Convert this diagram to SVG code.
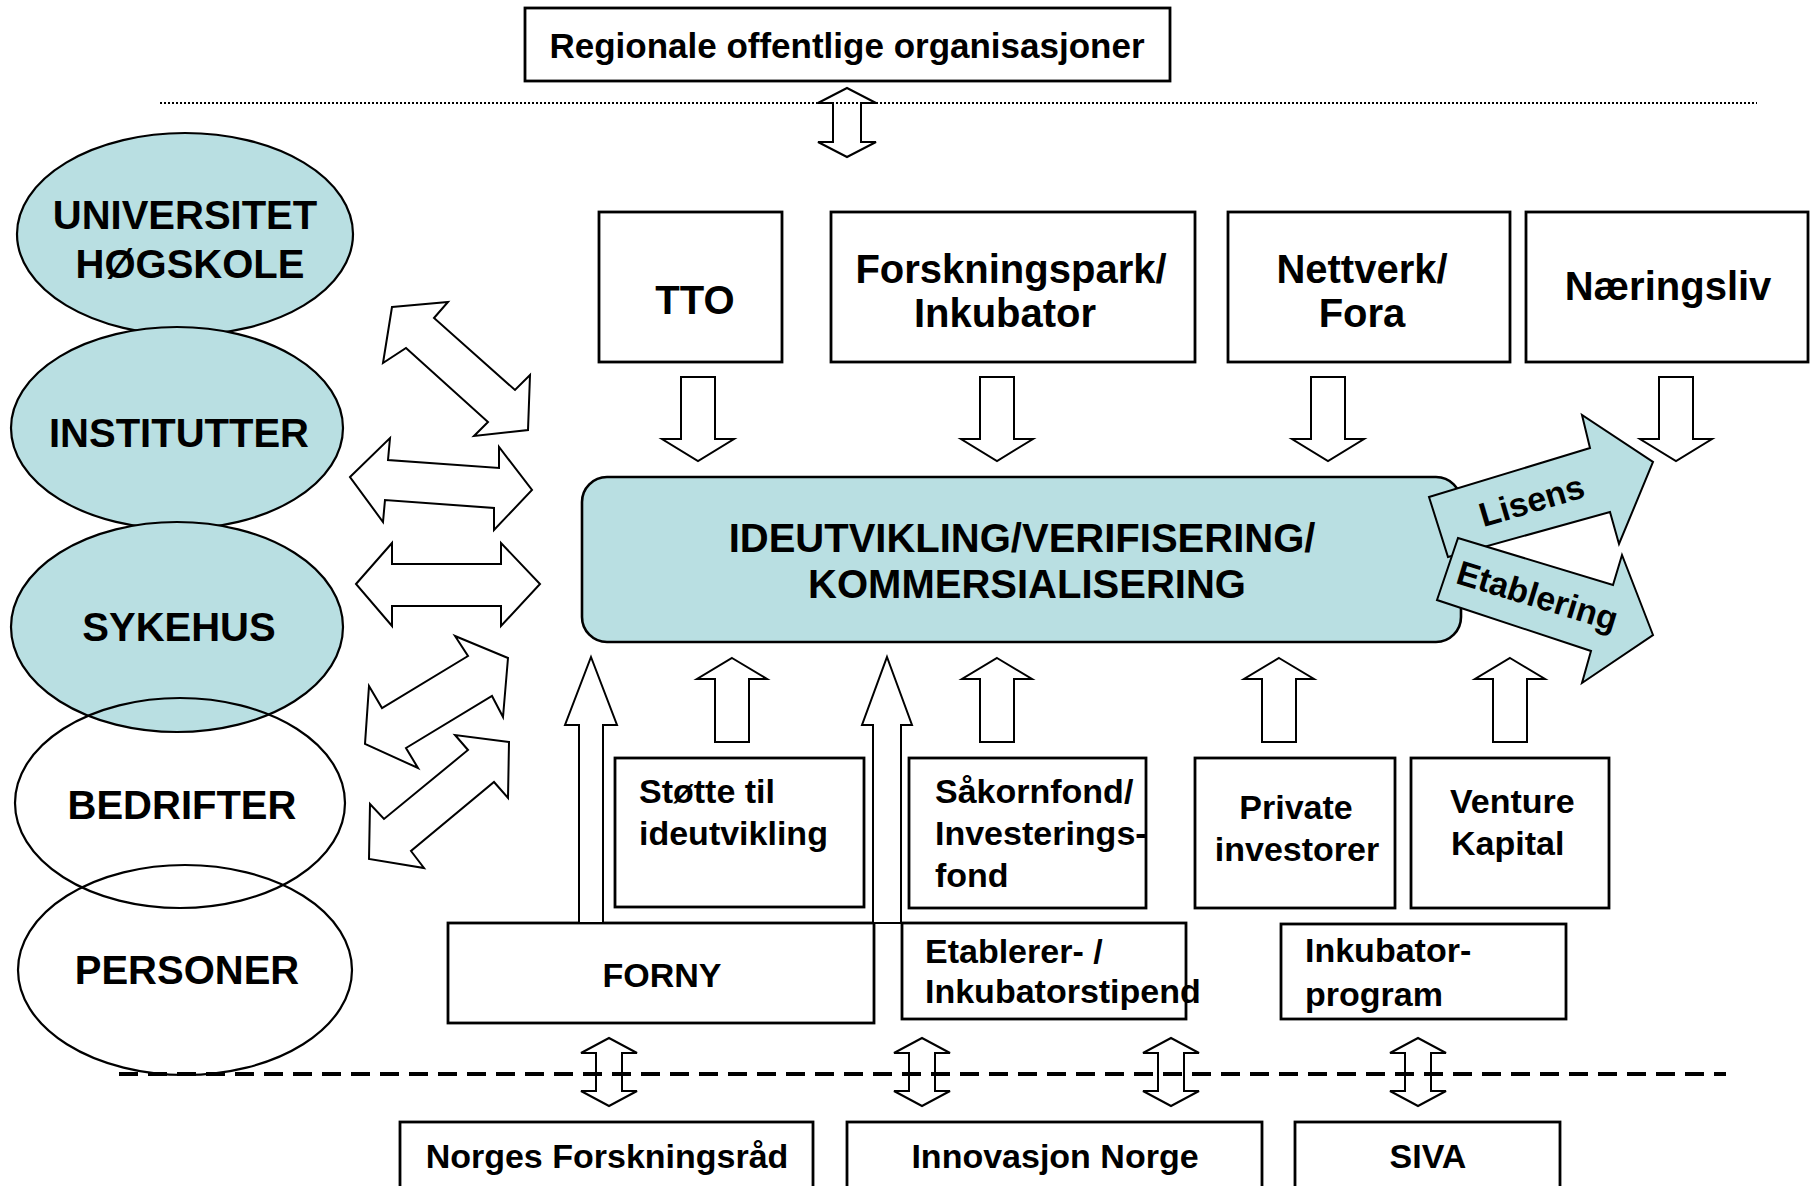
<svg xmlns="http://www.w3.org/2000/svg" width="1814" height="1186" viewBox="0 0 1814 1186">
<style>
text{font-family:"Liberation Sans",Arial,sans-serif;font-weight:bold;fill:#000}
.box{fill:#fff;stroke:#000;stroke-width:2.8}
.teal{fill:#b9dfe2;stroke:#000;stroke-width:2.6}
.ell{stroke:#000;stroke-width:2.2}
.arr{fill:#fff;stroke:#000;stroke-width:2;stroke-linejoin:miter}
.tarr{fill:#b9dfe2;stroke:#000;stroke-width:2;stroke-linejoin:miter}
.f40{font-size:40px}
.f34{font-size:34px}
.mid{text-anchor:middle}
</style>
<rect width="1814" height="1186" fill="#fff"/>

<g id="regionale">
<rect class="box" x="525" y="8" width="645" height="73" stroke-width="3"/>
<text class="mid" x="847" y="58" font-size="35">Regionale offentlige organisasjoner</text>
</g>

<g id="universitet">
<ellipse class="ell" cx="185" cy="234" rx="168" ry="101" fill="#b9dfe2"/>
<text class="f40 mid" x="185" y="229">UNIVERSITET</text>
<text class="f40 mid" x="190" y="278">HØGSKOLE</text>
</g>
<g id="institutter">
<ellipse class="ell" cx="177" cy="428" rx="166" ry="101" fill="#b9dfe2"/>
<text class="f40 mid" x="179" y="447">INSTITUTTER</text>
</g>
<g id="sykehus">
<ellipse class="ell" cx="177" cy="627" rx="166" ry="105" fill="#b9dfe2"/>
<text class="f40 mid" x="179" y="641">SYKEHUS</text>
</g>
<g id="bedrifter">
<ellipse class="ell" cx="180" cy="803" rx="165" ry="105" fill="none"/>
<text class="f40 mid" x="182" y="819">BEDRIFTER</text>
</g>
<g id="personer">
<ellipse class="ell" cx="185" cy="970" rx="167" ry="105" fill="none"/>
<text class="f40 mid" x="187" y="984">PERSONER</text>
</g>

<g id="tto">
<rect class="box" x="599" y="212" width="183" height="150"/>
<text class="f40 mid" x="695" y="314">TTO</text>
</g>
<g id="forskningspark">
<rect class="box" x="831" y="212" width="364" height="150"/>
<text class="f40 mid" x="1011" y="283">Forskningspark/</text>
<text class="f40 mid" x="1005" y="327">Inkubator</text>
</g>
<g id="nettverk">
<rect class="box" x="1228" y="212" width="282" height="150"/>
<text class="f40 mid" x="1362" y="283">Nettverk/</text>
<text class="f40 mid" x="1362" y="327">Fora</text>
</g>
<g id="naeringsliv">
<rect class="box" x="1526" y="212" width="282" height="150"/>
<text class="f40 mid" x="1668" y="300">Næringsliv</text>
</g>

<g id="ideutvikling">
<rect class="teal" x="582" y="477" width="879" height="165" rx="25" ry="25"/>
<text class="f40 mid" x="1022" y="552">IDEUTVIKLING/VERIFISERING/</text>
<text class="f40 mid" x="1027" y="598">KOMMERSIALISERING</text>
</g>

<g id="stotte">
<rect class="box" x="615" y="758" width="249" height="149"/>
<text class="f34" x="639" y="803">Støtte til</text>
<text class="f34" x="639" y="845">ideutvikling</text>
</g>
<g id="sakornfond">
<rect class="box" x="909" y="758" width="237" height="150"/>
<text class="f34" x="935" y="803">Såkornfond/</text>
<text class="f34" x="935" y="845">Investerings-</text>
<text class="f34" x="935" y="887">fond</text>
</g>
<g id="private">
<rect class="box" x="1195" y="758" width="200" height="150"/>
<text class="f34 mid" x="1296" y="819">Private</text>
<text class="f34 mid" x="1297" y="861">investorer</text>
</g>
<g id="venture">
<rect class="box" x="1411" y="758" width="198" height="150"/>
<text class="f34" x="1450" y="813">Venture</text>
<text class="f34" x="1451" y="855">Kapital</text>
</g>

<g id="forny">
<rect class="box" x="448" y="923" width="426" height="100"/>
<text class="f34 mid" x="662" y="987">FORNY</text>
</g>
<g id="etablerer">
<rect class="box" x="902" y="923" width="284" height="96"/>
<text class="f34" x="925" y="963">Etablerer- /</text>
<text class="f34" x="925" y="1003">Inkubatorstipend</text>
</g>
<g id="inkubatorprogram">
<rect class="box" x="1281" y="924" width="285" height="95"/>
<text class="f34" x="1305" y="962">Inkubator-</text>
<text class="f34" x="1305" y="1006">program</text>
</g>

<g id="forskningsrad">
<rect class="box" x="400" y="1122" width="413" height="90"/>
<text class="f34 mid" x="607" y="1168">Norges Forskningsråd</text>
</g>
<g id="innovasjon">
<rect class="box" x="847" y="1122" width="415" height="90"/>
<text class="f34 mid" x="1055" y="1168">Innovasjon Norge</text>
</g>
<g id="siva">
<rect class="box" x="1295" y="1122" width="265" height="90"/>
<text class="f34 mid" x="1428" y="1168">SIVA</text>
</g>

<g id="connectors">
<polygon class="arr" points="392,307 448,302 434,318 515,390 530,375 528,430 474,436 488,422 406,348 383,363"/>
<polygon class="arr" points="350,477 390,438 388,460 499,468 499,447 532,490 494,530 494,508 385,500 383,522"/>
<polygon class="arr" points="356,584 392,543 392,564 501,564 501,543 540,584 501,626 501,606 392,606 392,626"/>
<polygon class="arr" points="508,658 455,636 468,656 382,708 369,686 365,744 418,768 406,748 492,696 503,717"/>
<polygon class="arr" points="509,742 455,735 468,750 384,819 370,804 369,859 424,868 411,851 494,782 508,798"/>
<polygon class="arr" points="847,88 876,103 861,103 861,142 876,142 847,157 818,142 833,142 833,103 818,103"/>
<polygon class="arr" points="681,377 715,377 715,439 734,439 698,461 662,439 681,439"/>
<polygon class="arr" points="980,377 1014,377 1014,439 1033,439 997,461 961,439 980,439"/>
<polygon class="arr" points="1311,377 1345,377 1345,439 1364,439 1328,461 1292,439 1311,439"/>
<polygon class="arr" points="1659,377 1693,377 1693,439 1712,439 1676,461 1640,439 1659,439"/>
<polygon class="arr" points="732,658 767,679 749,679 749,742 715,742 715,679 697,679"/>
<polygon class="arr" points="997,658 1032,679 1014,679 1014,742 980,742 980,679 962,679"/>
<polygon class="arr" points="1279,658 1314,679 1296,679 1296,742 1262,742 1262,679 1244,679"/>
<polygon class="arr" points="1510,658 1545,679 1527,679 1527,742 1493,742 1493,679 1475,679"/>
<polygon class="arr" points="591,657 617,725 603,725 603,923 579,923 579,725 565,725"/>
<polygon class="arr" points="887,657 912,725 901,725 901,923 873,923 873,725 862,725"/>
<polygon class="arr" points="609,1038 637,1053 622,1053 622,1091 637,1091 609,1106 581,1091 596,1091 596,1053 581,1053"/>
<polygon class="arr" points="922,1038 950,1053 935,1053 935,1091 950,1091 922,1106 894,1091 909,1091 909,1053 894,1053"/>
<polygon class="arr" points="1171,1038 1199,1053 1184,1053 1184,1091 1199,1091 1171,1106 1143,1091 1158,1091 1158,1053 1143,1053"/>
<polygon class="arr" points="1418,1038 1446,1053 1431,1053 1431,1091 1446,1091 1418,1106 1390,1091 1405,1091 1405,1053 1390,1053"/>
<g id="lisens">
<polygon class="tarr" points="1429,497 1590,448 1582,415 1653,462 1619,544 1610,512 1448,557"/>
<text font-size="34" text-anchor="middle" transform="translate(1535,512) rotate(-16.5)">Lisens</text>
</g>
<g id="etablering">
<polygon class="tarr" points="1458,538 1613,585 1622,555 1653,635 1582,683 1591,651 1437,600"/>
<text font-size="34" text-anchor="middle" transform="translate(1534,607) rotate(17)">Etablering</text>
</g>
</g>

<g id="separators">
<line x1="160" y1="103" x2="1757" y2="103" stroke="#000" stroke-width="2" stroke-dasharray="2 2"/>
<line x1="119" y1="1074" x2="1726" y2="1074" stroke="#000" stroke-width="4" stroke-dasharray="19 10"/>
</g>
</svg>
